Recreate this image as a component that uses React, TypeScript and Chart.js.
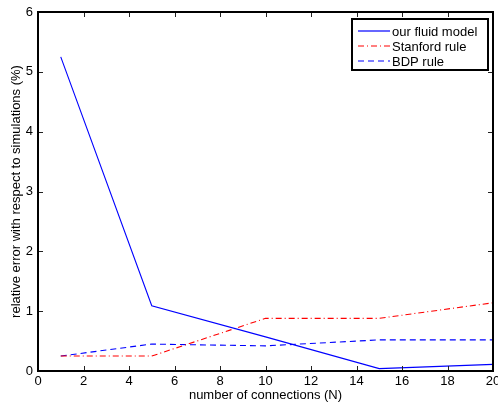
import React, { useEffect, useRef } from "react";
import { Chart, registerables } from "chart.js";

Chart.register(...registerables);

const connections = [1, 5, 10, 15, 20];
const fluidModel = [5.25, 1.09, 0.57, 0.04, 0.11];
const stanfordRule = [0.25, 0.25, 0.88, 0.88, 1.14];
const bdpRule = [0.25, 0.45, 0.42, 0.52, 0.52];
const seriesLabels = ["our fluid model", "Stanford rule", "BDP rule"];
const seriesColors = ["#0000ff", "#ff0000", "#0000ff"];
const seriesDashes: number[][] = [[], [6, 3, 1, 3], [6, 4]];
const xTicks = [0, 2, 4, 6, 8, 10, 12, 14, 16, 18, 20];
const yTicks = [0, 1, 2, 3, 4, 5, 6];

const FONT = "'Liberation Sans', Arial, Helvetica, sans-serif";

const framePlugin = {
  id: "matlabFrame",
  afterDraw(chart: any) {
    const { ctx, chartArea: a, scales } = chart;
    const xs = scales.x;
    const ys = scales.y;
    ctx.save();
    ctx.setLineDash([]);
    ctx.strokeStyle = "#222";
    ctx.lineWidth = 1;
    const tl = 5;
    ctx.beginPath();
    xTicks.forEach((v) => {
      const px = Math.round(xs.getPixelForValue(v)) + 0.5;
      ctx.moveTo(px, a.bottom);
      ctx.lineTo(px, a.bottom - tl);
      ctx.moveTo(px, a.top);
      ctx.lineTo(px, a.top + tl);
    });
    yTicks.forEach((v) => {
      const py = Math.round(ys.getPixelForValue(v)) + 0.5;
      ctx.moveTo(a.left, py);
      ctx.lineTo(a.left + tl, py);
      ctx.moveTo(a.right, py);
      ctx.lineTo(a.right - tl, py);
    });
    ctx.stroke();
    ctx.strokeStyle = "#000";
    ctx.lineWidth = 2;
    ctx.strokeRect(a.left, a.top, a.right - a.left, a.bottom - a.top);

    // legend
    const lx = 352;
    const ly = 19;
    const lw = 136;
    const lh = 51;
    ctx.fillStyle = "#fff";
    ctx.fillRect(lx, ly, lw, lh);
    ctx.strokeStyle = "#000";
    ctx.lineWidth = 2;
    ctx.strokeRect(lx, ly, lw, lh);
    const rows = [31, 46, 61];
    seriesLabels.forEach((label, i) => {
      const y = rows[i];
      ctx.beginPath();
      ctx.strokeStyle = seriesColors[i];
      ctx.lineWidth = 1.2;
      ctx.setLineDash(seriesDashes[i]);
      ctx.moveTo(358, y);
      ctx.lineTo(390, y);
      ctx.stroke();
      ctx.setLineDash([]);
      ctx.fillStyle = "#000";
      ctx.font = `13px ${FONT}`;
      ctx.textBaseline = "middle";
      ctx.textAlign = "left";
      ctx.fillText(label, 392, rows[i] + 1);
    });
    ctx.restore();
  },
};

export default function App() {
  const ref = useRef<HTMLCanvasElement | null>(null);
  useEffect(() => {
    if (!ref.current) return;
    const mk = (data: number[]) => connections.map((x, i) => ({ x, y: data[i] }));
    const series = [fluidModel, stanfordRule, bdpRule];
    const chart = new Chart(ref.current, {
      type: "line",
      data: {
        datasets: series.map((d, i) => ({
          label: seriesLabels[i],
          data: mk(d),
          borderColor: seriesColors[i],
          borderWidth: 1.1,
          borderDash: seriesDashes[i],
          pointRadius: 0,
          tension: 0,
        })),
      },
      options: {
        responsive: false,
        animation: false,
        layout: { padding: { top: 12, right: 5, left: 0, bottom: 0 } },
        plugins: { legend: { display: false }, tooltip: { enabled: false } },
        scales: {
          x: {
            type: "linear",
            min: 0,
            max: 20,
            afterBuildTicks: (s: any) => {
              s.ticks = xTicks.map((v) => ({ value: v }));
            },
            afterFit: (s: any) => {
              s.height = 31;
              s.paddingLeft = 0;
              s.paddingRight = 0;
            },
            grid: { display: false, drawTicks: false },
            border: { display: false },
            ticks: {
              color: "#000",
              padding: 3,
              maxRotation: 0,
              autoSkip: false,
              font: { family: FONT, size: 13 },
            },
            title: {
              display: true,
              text: "number of connections (N)",
              color: "#000",
              padding: { top: 0, bottom: 0 },
              font: { family: FONT, size: 13, lineHeight: 1 },
            },
          },
          y: {
            type: "linear",
            min: 0,
            max: 6,
            afterBuildTicks: (s: any) => {
              s.ticks = yTicks.map((v) => ({ value: v }));
            },
            afterFit: (s: any) => {
              s.width = 38;
              s.paddingTop = 0;
              s.paddingBottom = 0;
            },
            grid: { display: false, drawTicks: false },
            border: { display: false },
            ticks: {
              color: "#000",
              padding: 5,
              autoSkip: false,
              font: { family: FONT, size: 13 },
            },
            title: {
              display: true,
              text: "relative error with respect to simulations (%)",
              color: "#000",
              padding: { top: 10, bottom: 0 },
              font: { family: FONT, size: 13, lineHeight: 1 },
            },
          },
        },
      },
      plugins: [framePlugin],
    } as any);
    return () => chart.destroy();
  }, []);
  return (
    <div style={{ position: "fixed", left: 0, top: 0, width: 498, height: 402, background: "#fff" }}>
      <canvas ref={ref} width={498} height={402} style={{ display: "block" }} />
    </div>
  );
}
